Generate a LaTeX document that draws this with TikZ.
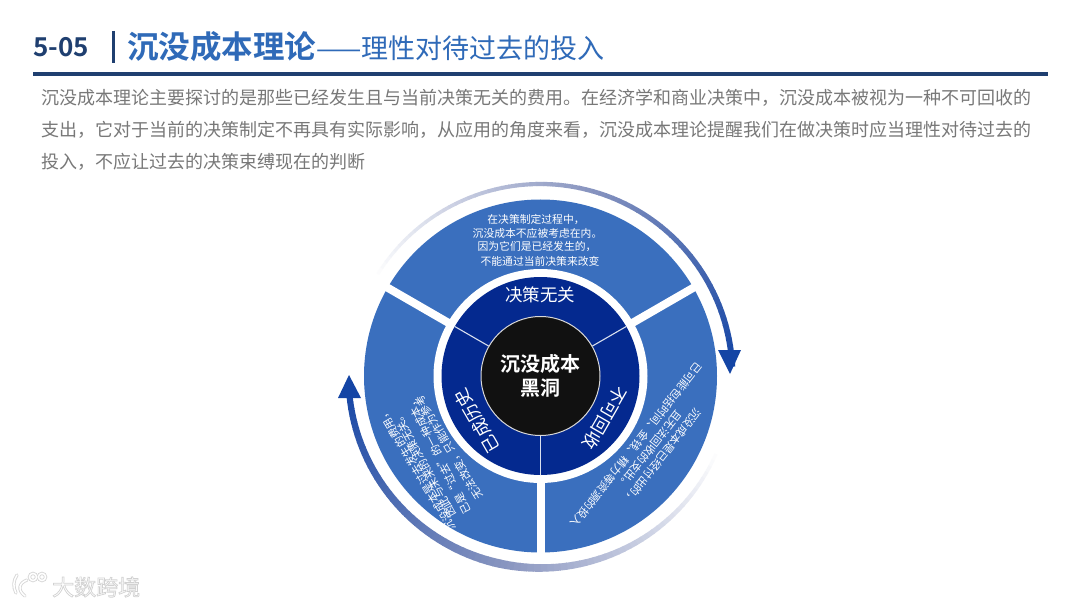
\documentclass[tikz,border=0pt]{standalone}
\usepackage{fontspec}
\setmainfont{Noto Sans CJK SC}[BoldFont={Noto Sans CJK SC Bold}]
\newfontfamily\cjkbold{Noto Sans CJK SC Bold}
\definecolor{navy}{HTML}{1F3F70}
\definecolor{titleblue}{HTML}{2F6AB8}
\definecolor{bodygray}{HTML}{787878}
\definecolor{sector}{HTML}{3A6FBE}
\definecolor{ringdark}{HTML}{04298F}
\definecolor{holeblack}{HTML}{111111}
\definecolor{arrowmid}{HTML}{8A96C0}
\definecolor{arrowend}{HTML}{1445A5}
\newcommand{\fpx}[1]{\fontsize{#1pt}{#1pt}\selectfont}
\tikzset{
  bodyline/.style={anchor=west,inner sep=0pt,text=bodygray,font=\fpx{18}},
  sectxt/.style={inner sep=0pt,text=white,font=\fpx{10.8}},
  ringtxt/.style={inner sep=0pt,text=white,font=\fpx{17.5}},
  holetxt/.style={inner sep=0pt,text=white,font=\cjkbold\fpx{20}},
  logoback/.style={draw=black!16,line width=3.2pt,line cap=round},
  logofront/.style={draw=white,line width=1.5pt,line cap=round}
}
\newcommand{\arcseg}[4]{% start, end, width, t(0-100)
  \pgfmathsetmacro{\tt}{#4}%
  \ifdim\tt pt<50pt
    \pgfmathsetmacro{\uu}{2*\tt}\colorlet{segc}{arrowmid!\uu!white}%
  \else
    \pgfmathsetmacro{\uu}{2*\tt-100}\colorlet{segc}{arrowend!\uu!arrowmid}%
  \fi
  \draw[segc,line width=#3pt] (#1:192) arc[start angle=#1,end angle=#2,radius=192];
}
\begin{document}
\begin{tikzpicture}[x=1pt,y=-1pt]
\useasboundingbox (0,0) rectangle (1080,607);
\fill[white] (0,0) rectangle (1080,607);
% header
\node[anchor=west,inner sep=0pt,text=navy,font=\cjkbold\fpx{26}] (num) at (33,47) {5-05};
\coordinate (bartop) at (113.5,31);
\coordinate (barbot) at (113.5,63);
\draw[navy,line width=3pt] (bartop) -- (barbot);
\node[anchor=west,inner sep=0pt,text=titleblue,font=\fpx{27}] (title) at (127,47) {{\cjkbold\fpx{31.5}沉没成本理论}\hspace{0pt}——理性对待过去的投入};
\coordinate (rulel) at (33,74);
\coordinate (ruler) at (1048,74);
\draw[navy,line width=3.2pt] (rulel) -- (ruler);
% body
\node[bodyline] (l1) at (41,98) {沉没成本理论主要探讨的是那些已经发生且与当前决策无关的费用。在经济学和商业决策中，沉没成本被视为一种不可回收的};
\node[bodyline] (l2) at (41,130) {支出，它对于当前的决策制定不再具有实际影响，从应用的角度来看，沉没成本理论提醒我们在做决策时应当理性对待过去的};
\node[bodyline] (l3) at (41,162) {投入，不应让过去的决策束缚现在的判断};
% wheel
\begin{scope}[shift={(540.5,376)},y=1pt]
  % arrows
  \foreach \i in {0,...,69}{
    \pgfmathsetmacro{\a}{150-\i*2.1}
    \pgfmathsetmacro{\b}{150-(\i+1)*2.1-0.2}
    \pgfmathsetmacro{\w}{3+3*\i/69}
    \pgfmathsetmacro{\t}{\i/69*100}
    \arcseg{\a}{\b}{\w}{\t}
  }
  \fill[arrowend] (177.5,26) -- (200.5,26) -- (189.5,2) -- cycle;
  \foreach \i in {0,...,77}{
    \pgfmathsetmacro{\a}{-22-\i*2}
    \pgfmathsetmacro{\b}{-22-(\i+1)*2-0.2}
    \pgfmathsetmacro{\w}{\i<40?3+5.5*\i/40:8.5-2.5*(\i-40)/37}
    \pgfmathsetmacro{\t}{\i/77*100}
    \arcseg{\a}{\b}{\w}{\t}
  }
  \fill[arrowend] (-202.5,-22) -- (-179.5,-22) -- (-191.5,1) -- cycle;
  % sectors
  \fill[sector] (0,0) circle (176.5);
  \foreach \ang in {30,150,270}{
    \draw[white,line width=8pt] (\ang:100) -- (\ang:180);
  }
  \fill[white] (0,0) circle (107);
  \fill[ringdark] (0,0) circle (99);
  \foreach \ang in {30,150,270}{
    \draw[white!85!ringdark,line width=1.1pt] (\ang:60) -- (\ang:99);
  }
  \fill[holeblack] (0,0) circle (59.5);
  \draw[white!85!black,line width=1pt] (0,0) circle (59.5);
\end{scope}
% top sector
\node[sectxt] (t1) at (536,220) {在决策制定过程中，};
\node[sectxt] (t2) at (537.5,233.5) {沉没成本不应被考虑在内。};
\node[sectxt] (t3) at (537,247) {因为它们是已经发生的，};
\node[sectxt] (t4) at (540,261) {不能通过当前决策来改变};
% right sector
\node[sectxt,rotate=232] (r1) at (662.5,456.5) {沉没成本是已经付出的，};
\node[sectxt,rotate=232] (r2) at (650,450) {且无法回收的支出。};
\node[sectxt,rotate=232] (r3) at (636.5,445) {已可能包括时间、金钱、精力等资源的投入};
% left sector
\node[sectxt,rotate=121] (s1) at (417,470) {沉没成本是过去发生的费用，};
\node[sectxt,rotate=119] (s2) at (424,464.5) {因此与未来的决策无关。};
\node[sectxt,rotate=117] (s3) at (438.5,455.5) {已是“过去”的一种成本，};
\node[sectxt,rotate=121] (s4) at (449,447.5) {无法改变，只能作为参考};
% ring labels
\node[ringtxt] (rt) at (540,295) {决策无关};
\node[ringtxt,rotate=240] (rr) at (605,418) {不可回收};
\node[ringtxt,rotate=120] (rl) at (477,421) {已成历史};
% centre
\node[holetxt] (h1) at (540,364) {沉没成本};
\node[holetxt] (h2) at (540,388.5) {黑洞};
% watermark logo
\foreach \sty in {logoback,logofront}{
  \draw[\sty] (17,575) .. controls (13,581) and (13,587) .. (16,593);
  \draw[\sty] (27,580) .. controls (19,583) and (17,590) .. (25,596);
  \draw[\sty] (33,577) circle (3.6);
  \draw[\sty] (42,577) circle (3.6);
}
% watermark text
\node[anchor=west,inner sep=0pt,text=white,font=\fpx{22}] (wm) at (52,587)
  {\special{pdf:code 2 Tr 0.7 w 0.82 G}大数跨境\special{pdf:code 0 Tr 0 G}};
\end{tikzpicture}
\end{document}
